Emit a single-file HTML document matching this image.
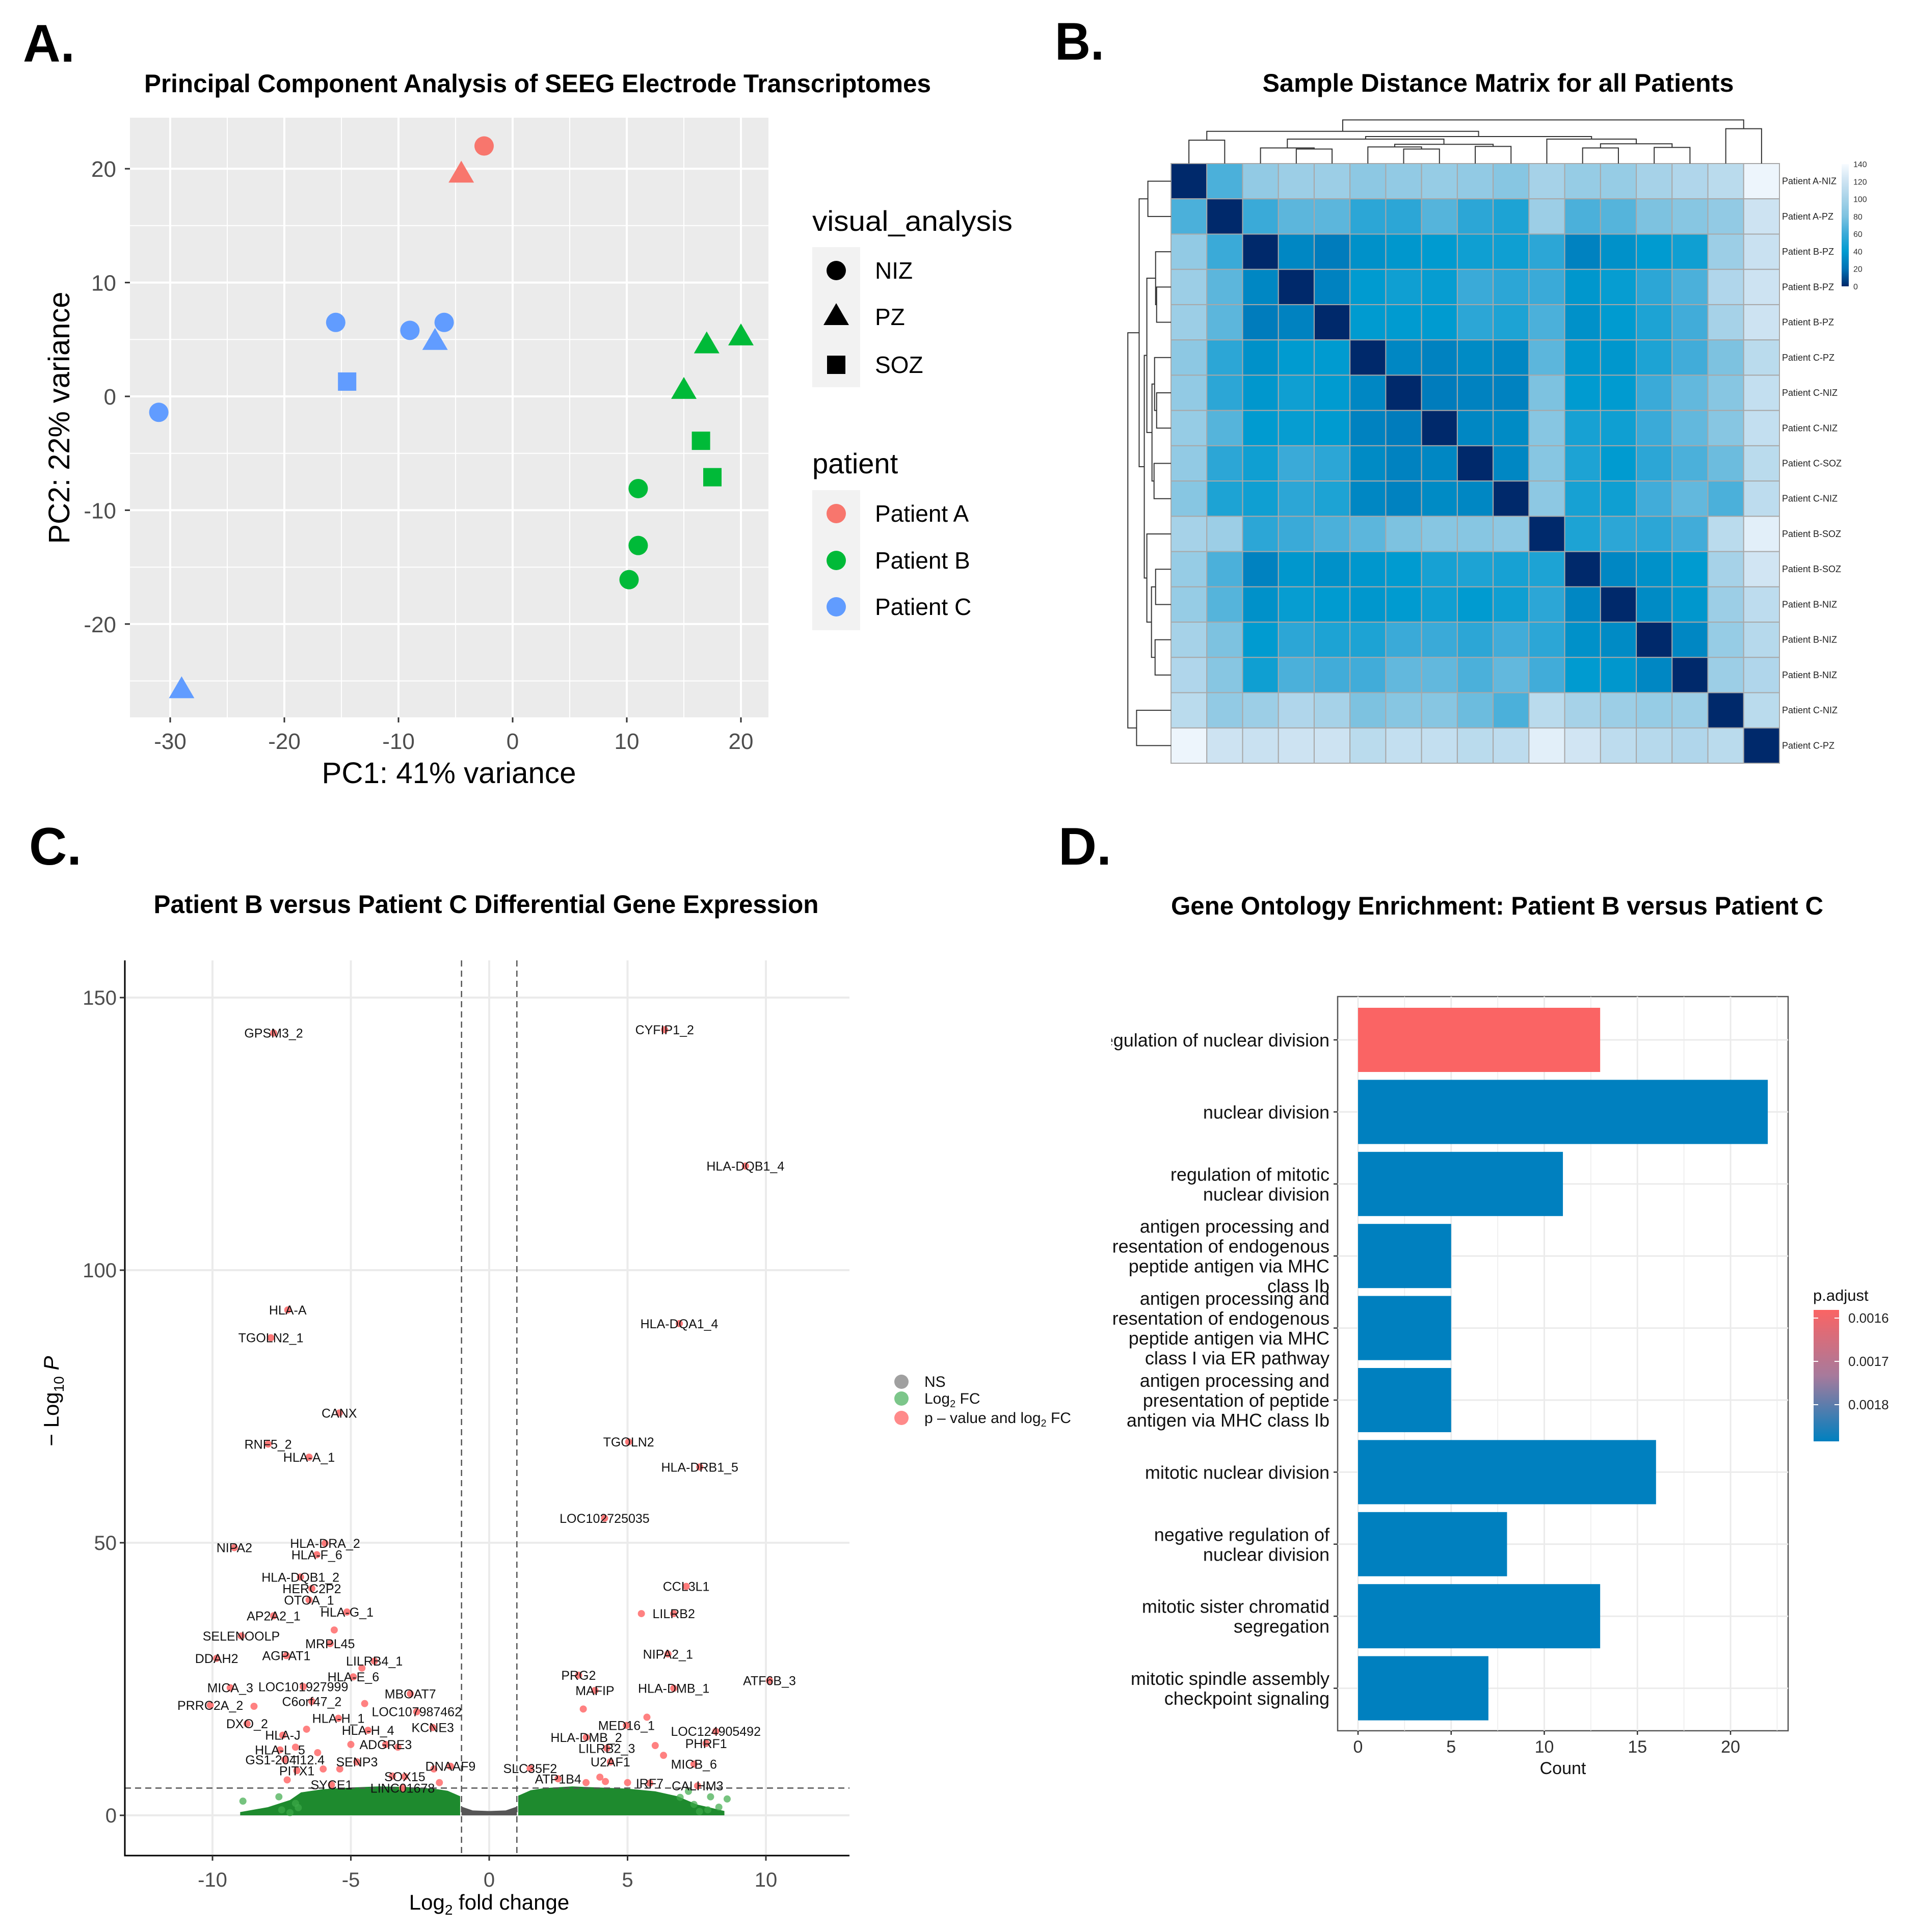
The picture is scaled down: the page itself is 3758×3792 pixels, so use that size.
<!DOCTYPE html>
<html><head><meta charset="utf-8">
<style>
html,body{margin:0;padding:0;background:#fff;}
svg{display:block;}
text{font-family:"Liberation Sans",Arial,sans-serif;}
</style></head>
<body>
<svg id="fig" xmlns="http://www.w3.org/2000/svg" width="3758" height="3792" viewBox="0 0 3758 3792">
<rect x="0" y="0" width="3758" height="3792" fill="#fff"/>
<defs>
<clipPath id="clipD"><rect x="2181" y="1850" width="1500" height="1700"/></clipPath>
<linearGradient id="gradB" x1="0" y1="0" x2="0" y2="1">
<stop offset="0" stop-color="#F7FBFF"/><stop offset="0.143" stop-color="#CDE3F2"/><stop offset="0.286" stop-color="#A6D2E8"/><stop offset="0.429" stop-color="#7DC2E0"/><stop offset="0.571" stop-color="#3AAAD8"/><stop offset="0.714" stop-color="#009BD0"/><stop offset="0.857" stop-color="#0072B5"/><stop offset="1" stop-color="#00296B"/>
</linearGradient>
<linearGradient id="gradD" x1="0" y1="0" x2="0" y2="1">
<stop offset="0" stop-color="#FA6464"/><stop offset="0.5" stop-color="#A77A9C"/><stop offset="1" stop-color="#0080BF"/>
</linearGradient>
</defs>

<text x="45" y="121" font-size="104" font-weight="bold" textLength="102" lengthAdjust="spacingAndGlyphs">A.</text>
<text x="2070" y="117" font-size="104" font-weight="bold" textLength="97" lengthAdjust="spacingAndGlyphs">B.</text>
<text x="57" y="1697" font-size="104" font-weight="bold" textLength="103" lengthAdjust="spacingAndGlyphs">C.</text>
<text x="2077" y="1697" font-size="104" font-weight="bold" textLength="104" lengthAdjust="spacingAndGlyphs">D.</text>
<text x="1055" y="181" font-size="50" font-weight="bold" text-anchor="middle" textLength="1544" lengthAdjust="spacingAndGlyphs">Principal Component Analysis of SEEG Electrode Transcriptomes</text>
<text x="2940" y="180" font-size="50" font-weight="bold" text-anchor="middle" textLength="925" lengthAdjust="spacingAndGlyphs">Sample Distance Matrix for all Patients</text>
<text x="954" y="1792" font-size="50" font-weight="bold" text-anchor="middle" textLength="1305" lengthAdjust="spacingAndGlyphs">Patient B versus Patient C Differential Gene Expression</text>
<text x="2938" y="1795" font-size="50" font-weight="bold" text-anchor="middle" textLength="1280" lengthAdjust="spacingAndGlyphs">Gene Ontology Enrichment: Patient B versus Patient C</text>

<g id="panelA"></g>
<g id="panelB"></g>
<g id="panelC"></g>
<g id="panelD"></g>
</svg>

<script>
// ---------- Panel A data ----------
const pcaX = [-2.5, -4.5, -15.5, -9, -6, -6.8, -14.5, -31, -29, 17, 20, 15, 16.5, 17.5, 11, 11, 10.2];
const pcaY = [22, 19.5, 6.5, 5.8, 6.5, 4.8, 1.3, -1.4, -25.8, 4.5, 5.2, 0.5, -3.9, -7.1, -8.1, -13.1, -16.1];
const pcaShape = ['NIZ','PZ','NIZ','NIZ','NIZ','PZ','SOZ','NIZ','PZ','PZ','PZ','PZ','SOZ','SOZ','NIZ','NIZ','NIZ'];
const pcaPatient = ['A','A','C','C','C','C','C','C','C','B','B','B','B','B','B','B','B'];
const pcaXTicks = [-30, -20, -10, 0, 10, 20];
const pcaYTicks = [-20, -10, 0, 10, 20];

// ---------- Panel B data ----------
const sampleLabels = ['Patient A-NIZ','Patient A-PZ','Patient B-PZ','Patient B-PZ','Patient B-PZ','Patient C-PZ','Patient C-NIZ','Patient C-NIZ','Patient C-SOZ','Patient C-NIZ','Patient B-SOZ','Patient B-SOZ','Patient B-NIZ','Patient B-NIZ','Patient B-NIZ','Patient C-NIZ','Patient C-PZ'];
const distMatrix = [
[0,65,90,95,95,88,90,92,90,85,100,92,92,100,105,110,135],
[65,0,60,70,70,55,55,68,55,50,95,65,68,80,85,90,120],
[90,60,0,30,25,35,38,40,45,45,55,28,35,40,45,95,118],
[95,70,30,0,28,40,45,42,60,55,60,38,42,55,65,105,120],
[95,70,25,28,0,40,40,40,55,50,65,35,40,50,62,100,120],
[88,55,35,40,40,0,30,28,32,30,70,38,38,50,62,80,110],
[90,55,38,45,40,30,0,25,28,28,80,40,40,60,72,85,115],
[92,68,40,42,40,28,25,0,30,32,85,48,45,60,72,85,115],
[90,55,45,60,55,32,28,30,0,30,85,50,40,55,65,75,110],
[85,50,45,55,50,30,28,32,30,0,88,48,45,62,72,65,112],
[100,95,55,60,65,70,80,85,85,88,0,50,55,55,62,110,130],
[92,65,28,38,35,38,40,48,50,48,50,0,30,35,40,100,122],
[92,68,35,42,40,38,40,45,40,45,55,30,0,32,38,95,112],
[100,80,40,55,50,50,60,60,55,62,55,35,32,0,30,92,108],
[105,85,45,65,62,62,72,72,65,72,62,40,38,30,0,95,105],
[110,90,95,105,100,80,85,85,75,65,110,100,95,92,95,0,110],
[135,120,118,120,120,110,115,115,110,112,130,122,112,108,105,110,0]];
const treeA = [0,3,2,6,5,8,21,19,11,13,25,10,24,17,15,30];
const treeB = [1,4,18,7,20,9,22,23,12,14,26,27,28,29,16,31];
const treeH = [45,28,30,28,32,33,37,47,30,31,38,47,52,62,67,84];
const cbarTicks = [140,120,100,80,60,40,20,0];

// ---------- Panel C data ----------
const geneNames = ['GPSM3_2','HLA-A','TGOLN2_1','CANX','RNF5_2','HLA-A_1','NIPA2','HLA-DRA_2','HLA-F_6','HLA-DQB1_2','HERC2P2','OTOA_1','AP2A2_1','HLA-G_1','SELENOOLP','MRPL45','DDAH2','AGPAT1','LILRB4_1','HLA-E_6','MICA_3','LOC101927999','MBOAT7','C6orf47_2','PRRC2A_2','LOC107987462','HLA-H_1','DXO_2','HLA-J','HLA-H_4','KCNE3','ADGRE3','HLA-L_5','GS1-204I12.4','SENP3','PITX1','DNAAF9','SOX15','SYCE1','LINC01678',
'CYFIP1_2','HLA-DQB1_4','HLA-DQA1_4','TGOLN2','HLA-DRB1_5','LOC102725035','CCL3L1','LILRB2','NIPA2_1','PRG2','ATF6B_3','MAFIP','HLA-DMB_1','MED16_1','LOC124905492','HLA-DMB_2','PHRF1','LILRB2_3','U2AF1','MICB_6','SLC35F2','ATP1B4','IRF7','CALHM3'];
const geneFC = [-7.79,-7.28,-7.89,-5.42,-7.99,-6.51,-9.21,-5.93,-6.23,-6.82,-6.41,-6.51,-7.79,-5.14,-8.96,-5.75,-9.85,-7.33,-4.15,-4.91,-9.36,-6.72,-2.85,-6.41,-10.08,-2.62,-5.45,-8.75,-7.46,-4.38,-2.04,-3.74,-7.56,-7.38,-4.78,-6.95,-1.40,-3.05,-5.70,-3.13,
6.34,9.26,6.87,5.04,7.61,4.17,7.12,6.67,6.46,3.23,10.13,3.82,6.67,4.96,8.19,3.51,7.84,4.25,4.38,7.40,1.48,2.49,5.80,7.53];
const geneP = [143.5,92.7,87.6,73.8,68.1,65.7,49.1,49.9,47.8,43.7,41.6,39.5,36.6,37.3,32.9,31.5,28.8,29.3,28.3,25.4,23.4,23.6,22.3,20.9,20.2,19.0,17.8,16.8,14.7,15.6,16.1,13.0,12.0,10.2,9.8,8.2,9.0,7.1,5.6,5.0,
144.1,119.1,90.2,68.5,63.9,54.5,42.0,37.0,29.6,25.7,24.7,22.9,23.3,16.5,15.4,14.3,13.2,12.3,9.8,9.4,8.6,6.7,5.9,5.4];
const extraRedFC = [-6.2,-5.0,-3.5,-4.5,-6.6,-7.3,-2.0,-1.8,-5.6,4.0,4.2,3.5,5.0,5.5,6.0,3.4,5.7,6.3,-4.6,-3.3,-8.5,-7.0,-6.0,-5.4];
const extraRedP = [11.5,13.0,7.2,20.5,15.8,6.5,8.5,6.0,34.0,7.0,6.2,6.0,6.0,37.0,12.8,19.5,18.0,11.0,27.0,12.5,20.0,12.5,8.5,8.5];
const cloudLeftX = [-9.0,-8.0,-7.2,-6.8,-6.0,-5.0,-4.0,-3.0,-2.0,-1.5,-1.05];
const cloudLeftTop = [0.6,1.5,2.8,4.2,4.8,5.1,5.3,5.2,4.9,4.5,3.5];
const cloudRightX = [1.05,1.5,2.0,3.0,4.0,5.0,6.0,6.8,7.5,8.5];
const cloudRightTop = [3.6,4.6,5.0,5.3,5.1,4.9,4.4,3.5,2.0,0.8];
const nsX = [-1.0,-0.6,0,0.6,1.0];
const nsTop = [1.6,0.9,0.8,0.9,1.6];
const strayGreenFC = [-8.9,-7.6,-7.5,-7.2,-7.0,6.9,7.4,7.6,7.9,8.0,8.3,8.6,-6.9,7.2];
const strayGreenP = [2.6,3.4,1.0,0.5,2.2,3.3,2.0,0.7,1.0,3.4,1.5,3.0,1.4,4.4];
const volXTicks = [-10,-5,0,5,10];
const volYTicks = [0,50,100,150];

// ---------- Panel D data ----------
const goTerms = [
 ['regulation of nuclear division'],
 ['nuclear division'],
 ['regulation of mitotic','nuclear division'],
 ['antigen processing and','presentation of endogenous','peptide antigen via MHC','class Ib'],
 ['antigen processing and','presentation of endogenous','peptide antigen via MHC','class I via ER pathway'],
 ['antigen processing and','presentation of peptide','antigen via MHC class Ib'],
 ['mitotic nuclear division'],
 ['negative regulation of','nuclear division'],
 ['mitotic sister chromatid','segregation'],
 ['mitotic spindle assembly','checkpoint signaling']];
const goCounts = [13,22,11,5,5,5,16,8,13,7];
const goPadj = [0.0016,0.00185,0.00185,0.00185,0.00185,0.00185,0.00185,0.00185,0.00185,0.00185];
const goXTicks = [0,5,10,15,20];
const padjTicks = [0.0016,0.0017,0.0018];

const NS = 'http://www.w3.org/2000/svg';
function mk(tag, attrs, parent){
  const e = document.createElementNS(NS, tag);
  for (const k in attrs) e.setAttribute(k, attrs[k]);
  parent.appendChild(e);
  return e;
}
function tx(str, attrs, parent){
  const e = mk('text', attrs, parent);
  e.textContent = str;
  return e;
}

// ================= Panel A =================
(function(){
  const g = document.getElementById('panelA');
  const xA = v => 1006 + v*22.4;
  const yA = v => 778 - v*22.34;
  const L=255,R=1508,T=231,B=1408;
  const bg = mk('rect',{x:L,y:T,width:R-L,height:B-T,fill:'#EBEBEB'},g);
  
  
  for (let v=-35; v<=25; v+=5){
    const px = xA(v); if (px<L||px>R) continue;
    const ln = mk('line',{x1:px,x2:px,y1:T,y2:B,stroke:'#fff','stroke-width': (v%10===0)?4:2},g);
    
    
  }
  for (let v=-25; v<=25; v+=5){
    const py = yA(v); if (py<T||py>B) continue;
    const ln = mk('line',{x1:L,x2:R,y1:py,y2:py,stroke:'#fff','stroke-width': (v%10===0)?4:2},g);
    
    
  }
  pcaXTicks.forEach(v=>{
    const t = mk('line',{x1:xA(v),x2:xA(v),y1:B,y2:B+10,stroke:'#333','stroke-width':3},g);
    
    
    const lb = tx(String(v),{x:xA(v),y:1470,'font-size':44,fill:'#4D4D4D','text-anchor':'middle'},g);
    
    
  });
  pcaYTicks.forEach(v=>{
    const t = mk('line',{x1:L-10,x2:L,y1:yA(v),y2:yA(v),stroke:'#333','stroke-width':3},g);
    
    
    const lb = tx(String(v),{x:228,y:yA(v)+16,'font-size':44,fill:'#4D4D4D','text-anchor':'end'},g);
    
    
  });
  const xt = tx('PC1: 41% variance',{x:881,y:1537,'font-size':58,'text-anchor':'middle',textLength:499,lengthAdjust:'spacingAndGlyphs'},g);
  
  
  const yt = tx('PC2: 22% variance',{x:0,y:0,'font-size':58,'text-anchor':'middle',textLength:495,lengthAdjust:'spacingAndGlyphs',transform:'translate(136,820) rotate(-90)'},g);
  
  

  const cols = {A:'#F8766D',B:'#00BA38',C:'#619CFF'};
  function shape(kind, cx, cy, fill, parent){
    let e;
    if (kind==='NIZ') e = mk('circle',{cx:cx,cy:cy,r:19,fill:fill},parent);
    else if (kind==='PZ') e = mk('polygon',{points:`${cx},${cy-27} ${cx+25},${cy+16} ${cx-25},${cy+16}`,fill:fill},parent);
    else e = mk('rect',{x:cx-18,y:cy-18,width:36,height:36,fill:fill},parent);
    return e;
  }
  pcaX.forEach((v,i)=>{
    const p = shape(pcaShape[i], xA(v), yA(pcaY[i]), cols[pcaPatient[i]], g);
    
    
  });
  const lt1 = tx('visual_analysis',{x:1594,y:453,'font-size':56,textLength:393,lengthAdjust:'spacingAndGlyphs'},g);
  
  
  const kb1 = mk('rect',{x:1594,y:485,width:94,height:275,fill:'#F2F2F2'},g);
  
  
  const shapeKeys=['NIZ','PZ','SOZ'], shapeY=[531,622,716];
  shapeKeys.forEach((k,i)=>{
    const s = shape(k,1641,shapeY[i],'#000',g);
    
    
    const t = tx(k,{x:1717,y:shapeY[i]+16,'font-size':46},g);
    
    
  });
  const lt2 = tx('patient',{x:1594,y:929,'font-size':56},g);
  
  
  const kb2 = mk('rect',{x:1594,y:962,width:94,height:275,fill:'#F2F2F2'},g);
  
  
  const pk=['A','B','C'], pY=[1008,1100,1191];
  pk.forEach((k,i)=>{
    const c = mk('circle',{cx:1641,cy:pY[i],r:19,fill:cols[k]},g);
    
    
    const t = tx('Patient '+k,{x:1717,y:pY[i]+16,'font-size':46},g);
    
    
  });
})();

// ================= Panel B =================
(function(){
  const g = document.getElementById('panelB');
  const X0=2298, Y0=321, CW=1194/17, CH=1177/17;
  const stopsV=[0,20,40,60,80,100,120,140];
  const stopsC=[[0,41,107],[0,114,181],[0,155,208],[58,170,216],[125,194,224],[166,210,232],[205,227,242],[247,251,255]];
  function col(v){
    if (v<=0) return 'rgb(0,41,107)';
    if (v>=140) return 'rgb(247,251,255)';
    let i=0; while (v>stopsV[i+1]) i++;
    const t=(v-stopsV[i])/(stopsV[i+1]-stopsV[i]);
    const a=stopsC[i], b=stopsC[i+1];
    return `rgb(${Math.round(a[0]+(b[0]-a[0])*t)},${Math.round(a[1]+(b[1]-a[1])*t)},${Math.round(a[2]+(b[2]-a[2])*t)})`;
  }
  distMatrix.forEach((row,r)=>{
    row.forEach((v,c)=>{
      const cell = mk('rect',{x:X0+c*CW,y:Y0+r*CH,width:CW,height:CH,fill:col(v),stroke:'#A8A8A8','stroke-width':2},g);
      
      
    });
    const lb = tx(sampleLabels[r],{x:3497,y:Y0+(r+0.5)*CH+6,'font-size':18,fill:'#222'},g);
    
    
  });
  const pos=[], hgt=[];
  for (let i=0;i<17;i++){pos.push(i+0.5);hgt.push(0);}
  let dTop='', dLeft='';
  const sT=1.02, sL=1.121*0.9;
  treeA.forEach((a,k)=>{
    const b=treeB[k], h=treeH[k];
    const xa=X0+pos[a]*CW, xb=X0+pos[b]*CW;
    dTop += `M${xa},${Y0-hgt[a]*sT}V${Y0-h*sT}H${xb}V${Y0-hgt[b]*sT}`;
    const ya=Y0+pos[a]*CH, yb=Y0+pos[b]*CH;
    dLeft += `M${X0-hgt[a]*sL},${ya}H${X0-h*sL}V${yb}H${X0-hgt[b]*sL}`;
    pos.push((pos[a]+pos[b])/2); hgt.push(h);
  });
  const pt = mk('path',{d:dTop,fill:'none',stroke:'#333','stroke-width':2},g);
  
  
  const pl = mk('path',{d:dLeft,fill:'none',stroke:'#333','stroke-width':2},g);
  
  
  const cb = mk('rect',{x:3614,y:322,width:14,height:240,fill:'url(#gradB)'},g);
  
  
  cbarTicks.forEach(v=>{
    const y = 562 - v/140*240;
    const t = tx(String(v),{x:3637,y:y+6,'font-size':16,fill:'#333'},g);
    
    
  });
})();

// ================= Panel C =================
(function(){
  const g = document.getElementById('panelC');
  const xC = v => 960 + v*54.3;
  const yC = v => 3563 - v*10.7;
  const L=245,R=1667,T=1885,B=3642;
  volXTicks.forEach(v=>{
    const ln = mk('line',{x1:xC(v),x2:xC(v),y1:T,y2:B,stroke:'#EBEBEB','stroke-width':4},g);
    
    
  });
  volYTicks.forEach(v=>{
    const ln = mk('line',{x1:L,x2:R,y1:yC(v),y2:yC(v),stroke:'#EBEBEB','stroke-width':4},g);
    
    
  });
  function area(xs,tops,fill){
    let d=`M${xC(xs[0])},${yC(0)}`;
    xs.forEach((x,i)=>{d+=`L${xC(x)},${yC(tops[i])}`;});
    d+=`L${xC(xs[xs.length-1])},${yC(0)}Z`;
    return mk('path',{d:d,fill:fill},g);
  }
  const cl = area(cloudLeftX,cloudLeftTop,'#1E8A2E');
  
  
  const cr = area(cloudRightX,cloudRightTop,'#1E8A2E');
  
  
  const ns = area(nsX,nsTop,'#555555');
  
  
  strayGreenFC.forEach((v,i)=>{
    const c = mk('circle',{cx:xC(v),cy:yC(strayGreenP[i]),r:7,fill:'#3CAA48','fill-opacity':0.7},g);
    
    
  });
  extraRedFC.forEach((v,i)=>{
    const c = mk('circle',{cx:xC(v),cy:yC(extraRedP[i]),r:7,fill:'#FF6B6B','fill-opacity':0.85},g);
    
    
  });
  [-1,1].forEach(v=>{
    const ln = mk('line',{x1:xC(v),x2:xC(v),y1:T,y2:B,stroke:'#555','stroke-width':2.5,'stroke-dasharray':'12,8'},g);
    
    
  });
  const hl = mk('line',{x1:L,x2:R,y1:yC(5),y2:yC(5),stroke:'#555','stroke-width':2.5,'stroke-dasharray':'12,8'},g);
  
  
  geneNames.forEach((n,i)=>{
    const px=xC(geneFC[i]), py=yC(geneP[i]);
    const c = mk('circle',{cx:px,cy:py,r:7,fill:'#FF6B6B','fill-opacity':0.9},g);
    
    
    const t = tx(n,{x:px,y:py+9,'font-size':25,'text-anchor':'middle',fill:'#111'},g);
    
    
  });
  const ax = mk('path',{d:`M${L},${T}V${B}H${R}`,fill:'none',stroke:'#000','stroke-width':3},g);
  
  
  volXTicks.forEach(v=>{
    const t = mk('line',{x1:xC(v),x2:xC(v),y1:B,y2:B+10,stroke:'#333','stroke-width':3},g);
    
    
    const lb = tx(String(v),{x:xC(v),y:3703,'font-size':40,fill:'#4D4D4D','text-anchor':'middle'},g);
    
    
  });
  volYTicks.forEach(v=>{
    const t = mk('line',{x1:L-10,x2:L,y1:yC(v),y2:yC(v),stroke:'#333','stroke-width':3},g);
    
    
    const lb = tx(String(v),{x:L-16,y:yC(v)+14,'font-size':40,fill:'#4D4D4D','text-anchor':'end'},g);
    
    
  });
  const xt = tx('',{x:960,y:3748,'font-size':42,'text-anchor':'middle'},g);
  xt.innerHTML = 'Log<tspan font-size="28" dy="10">2</tspan><tspan dy="-10"> fold change</tspan>';
  
  
  const yt = tx('',{x:0,y:0,'font-size':42,'text-anchor':'middle',transform:'translate(115,2750) rotate(-90)'},g);
  yt.innerHTML = '− Log<tspan font-size="28" dy="10">10</tspan><tspan dy="-10" font-style="italic"> P</tspan>';
  
  
  const lg = [['#A0A0A0','NS'],['#7CC68A','Log<tspan font-size="20" dy="7">2</tspan><tspan dy="-7"> FC</tspan>'],['#FF8A8A','p – value and log<tspan font-size="20" dy="7">2</tspan><tspan dy="-7"> FC</tspan>']];
  const ly=[2712,2745,2783];
  lg.forEach((e,i)=>{
    const c = mk('circle',{cx:1769,cy:ly[i],r:14,fill:e[0]},g);
    
    
    const t = tx('',{x:1814,y:ly[i]+10,'font-size':30,fill:'#111'},g);
    t.innerHTML = e[1];
    
    
  });
})();

// ================= Panel D =================
(function(){
  const g = document.getElementById('panelD');
  const xD = v => 2665 + v*36.55;
  const yD = i => 2041 + i*141.4;
  const L=2625,R=3509,T=1956,B=3397;
  const bg = mk('rect',{x:L,y:T,width:R-L,height:B-T,fill:'#fff',stroke:'#555','stroke-width':2.5},g);
  
  
  for (let v=0; v<=22.5; v+=2.5){
    const ln = mk('line',{x1:xD(v),x2:xD(v),y1:T,y2:B,stroke:'#EBEBEB','stroke-width':(v%5===0)?3:1.5},g);
    
    
  }
  goCounts.forEach((c,i)=>{
    const ln = mk('line',{x1:L,x2:R,y1:yD(i),y2:yD(i),stroke:'#EBEBEB','stroke-width':3},g);
    
    
  });
  const lbG = mk('g',{'clip-path':'url(#clipD)'},g);
  goCounts.forEach((c,i)=>{
    const fill = goPadj[i] < 0.00165 ? '#FA6464' : '#0080BF';
    const b = mk('rect',{x:xD(0),y:yD(i)-63,width:xD(c)-xD(0),height:126,fill:fill},g);
    
    
    const tk = mk('line',{x1:L-8,x2:L,y1:yD(i),y2:yD(i),stroke:'#333','stroke-width':2.5},g);
    
    
    const lines = goTerms[i];
    const y0 = yD(i) - (lines.length-1)*39/2;
    lines.forEach((s,j)=>{
      const t = tx(s,{x:2609,y:y0+j*39+13,'font-size':36,'text-anchor':'end',fill:'#111'},lbG);
      
      
    });
  });
  goXTicks.forEach(v=>{
    const t = mk('line',{x1:xD(v),x2:xD(v),y1:B,y2:B+8,stroke:'#333','stroke-width':2.5},g);
    
    
    const lb = tx(String(v),{x:xD(v),y:3440,'font-size':34,fill:'#333','text-anchor':'middle'},g);
    
    
  });
  const xt = tx('Count',{x:3067,y:3482,'font-size':34,'text-anchor':'middle',fill:'#111'},g);
  
  
  const lt = tx('p.adjust',{x:3558,y:2553,'font-size':31,fill:'#111'},g);
  
  
  const cb = mk('rect',{x:3559,y:2571,width:50,height:258,fill:'url(#gradD)'},g);
  
  
  padjTicks.forEach(v=>{
    const y = 2587 + (v-0.0016)/0.0001*85;
    const t1 = mk('line',{x1:3559,x2:3568,y1:y,y2:y,stroke:'#fff','stroke-width':2},g);
    
    
    const t2 = mk('line',{x1:3600,x2:3609,y1:y,y2:y,stroke:'#fff','stroke-width':2},g);
    
    
    const lb = tx(v.toFixed(4),{x:3627,y:y+9,'font-size':26,fill:'#222'},g);
    
    
  });
})();
</script>
</body></html>
